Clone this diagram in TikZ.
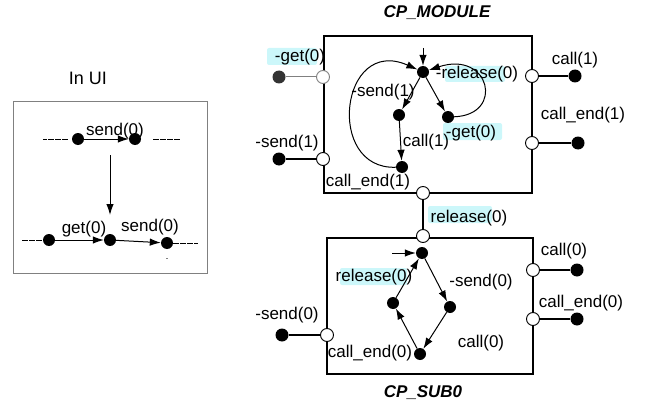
\documentclass[tikz,border=0pt]{standalone}
\usepackage{fontspec}
\setmainfont{Liberation Sans}
\usepackage{tikz}
\usetikzlibrary{arrows.meta}
\definecolor{hilite}{HTML}{CCF7FA}

\tikzset{
  state/.style={circle,fill=black,inner sep=0pt,minimum size=12pt},
  pin/.style={circle,fill=black,inner sep=0pt,minimum size=13pt},
  port/.style={circle,draw=black,fill=white,line width=0.9pt,inner sep=0pt,minimum size=13pt},
  lbl/.style={font=\fontsize{17}{19}\selectfont,inner sep=0pt},
  title/.style={font=\fontsize{17}{19}\selectfont\bfseries\itshape,inner sep=0pt},
  trans/.style={-{Latex[length=11pt,width=7.5pt]},line width=1pt},
  trail/.style={line width=0.9pt,dash pattern=on 6pt off 1pt},
  wire/.style={line width=1.1pt},
}

\begin{document}
\begin{tikzpicture}[x=1pt,y=-1pt]
  \useasboundingbox (0,0) rectangle (651,412);

  % shaded event names
  \foreach \a/\b/\c/\d in {267/48/317/65, 445/66/505/82, 443/123/502/140,
                           428/206/492/223, 340/268/407/285}{
    \fill[hilite,rounded corners=2pt] (\a,\b) rectangle (\c,\d);
  }

  % ---- In UI ----
  \node[lbl,font=\fontsize{18}{20}\selectfont] (uititle) at (88,78) {In UI};
  \draw[gray,line width=1pt] (13,102) rectangle (207,273);
  \node[state] (u1) at (78,139) {};
  \node[state] (u2) at (135,139) {};
  \node[state] (u3) at (49,240) {};
  \node[state] (u4) at (110,240) {};
  \node[state] (u5) at (167,243) {};
  \draw[trans] (u1) -- (u2);
  \draw[trans] (u3) -- (u4);
  \draw[trans] (u4) -- (u5);
  \draw[trail] (u1.west) ++(-4,0) -- ++(-25,0);
  \draw[trail] (u2.east) ++(12,0) -- ++(27,0);
  \draw[trail] (u3.west) ++(-1,0) -- ++(-21,0);
  \draw[trail] (u5.east) ++(0,0) -- ++(25,0);
  \coordinate (v1) at (110,155);
  \coordinate (v2) at (110,215);
  \draw[trans] (v1) -- (v2);
  \fill[gray] (166,257.5) rectangle (168,258.5);
  \node[lbl] (usend) at (115,131) {send(0)};
  \node[lbl] (uget) at (84,229) {get(0)};
  \node[lbl] (usend2) at (150,227) {send(0)};

  % ---- CP_MODULE ----
  \node[title] (modname) at (437,13) {CP\_MODULE};
  \draw[wire] (324,36) rectangle (532,193);

  \node[pin,fill=black!80] (eget) at (279,77) {};
  \node[pin] (esend1) at (279,159) {};
  \node[pin] (ecall1) at (575,76) {};
  \node[pin] (eend1) at (578,143) {};
  \draw[gray,line width=1pt] (eget) -- (323,77);
  \draw[wire] (esend1) -- (323,159);
  \draw[wire] (ecall1) -- (532,76);
  \draw[wire] (eend1) -- (532,143);
  \node[port,draw=gray] (pget) at (323,77) {};
  \node[port] (psend1) at (323,159) {};
  \node[port] (pcall1) at (532,76) {};
  \node[port] (pend1) at (532,143) {};
  \node[port] (pbot) at (423,193) {};

  \node[state] (t1) at (423,72) {};
  \node[state] (sa) at (399,115) {};
  \node[state] (sb) at (448,117) {};
  \node[state] (sc) at (402,167) {};
  \coordinate (t1in) at (423,48);
  \draw[trans] (t1in) -- (t1);
  \draw[trans] (t1) -- (sa);
  \draw[trans] (t1) -- (sb);
  \draw[trans] (sa) -- (sc);
  \draw[trans] (sc) .. controls (325,170) and (340,35) .. (t1);
  \draw[trans] (sb) .. controls (505,115) and (490,50) .. (t1);

  \node[lbl] (lget) at (300,57) {-get(0)};
  \node[lbl] (lsend1) at (287,143) {-send(1)};
  \node[lbl] (lcall1) at (575,60) {call(1)};
  \node[lbl] (lend1) at (583,115) {call\_end(1)};
  \node[lbl] (isend1) at (383,92) {-send(1)};
  \node[lbl] (irel) at (477,74) {-release(0)};
  \node[lbl] (icall1) at (426,142) {call(1)};
  \node[lbl] (iget) at (471,133) {-get(0)};
  \node[lbl] (iend1) at (368,182) {call\_end(1)};

  % ---- CP_SUB0 ----
  \draw[wire] (327,238) rectangle (533,374);
  \node[title] (subname) at (423,393) {CP\_SUB0};

  \node[pin] (ecall0) at (577,270) {};
  \node[pin] (eend0) at (577,319) {};
  \node[pin] (esend0) at (282,335) {};
  \draw[wire] (ecall0) -- (533,270);
  \draw[wire] (eend0) -- (533,319);
  \draw[wire] (esend0) -- (327,335);
  \node[port] (pcall0) at (533,270) {};
  \node[port] (pend0) at (533,319) {};
  \node[port] (psend0) at (327,335) {};
  \node[port] (ptop) at (423,236) {};
  \draw[wire] (pbot) -- (ptop);

  \node[state] (t2) at (422,253) {};
  \node[state] (sl) at (393,303) {};
  \node[state] (sr) at (450,307) {};
  \node[state] (sd) at (420,354) {};
  \coordinate (t2in) at (392,253);
  \draw[trans] (t2in) -- (t2);
  \draw[trans] (sl) -- (t2);
  \draw[trans] (t2) -- (sr);
  \draw[trans] (sr) -- (sd);
  \draw[trans] (sd) -- (sl);

  \node[lbl] (lrel) at (469,218) {release(0)};
  \node[lbl] (lcall0) at (564,251) {call(0)};
  \node[lbl] (lend0) at (581,303) {call\_end(0)};
  \node[lbl] (lsend0) at (287,315) {-send(0)};
  \node[lbl] (irel0) at (374,277) {release(0)};
  \node[lbl] (isend0) at (481,282) {-send(0)};
  \node[lbl] (icall0) at (481,343) {call(0)};
  \node[lbl] (iend0) at (370,353) {call\_end(0)};
\end{tikzpicture}
\end{document}
